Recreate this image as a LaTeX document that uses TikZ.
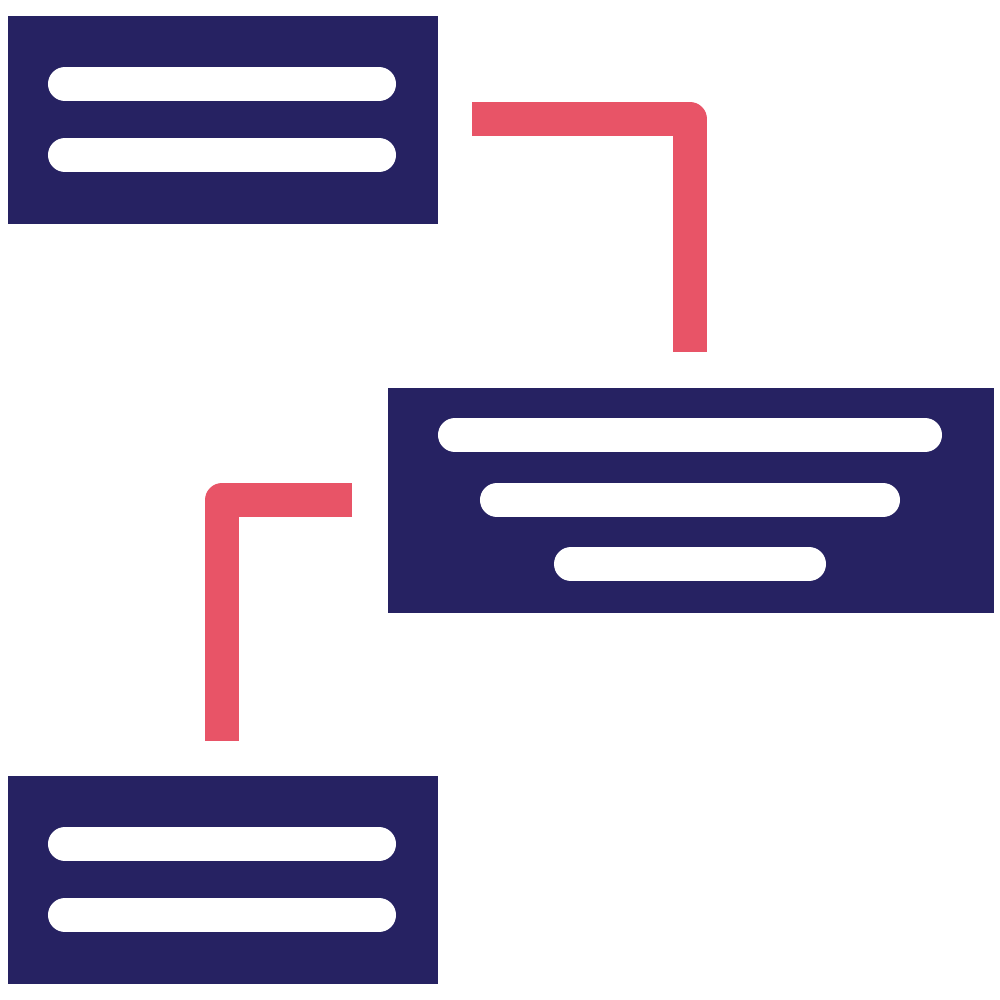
\documentclass[tikz,border=0pt]{standalone}
\definecolor{navy}{HTML}{262262}
\definecolor{rouge}{HTML}{E85467}
\tikzset{
  bloc/.style={fill=navy, inner sep=0pt, anchor=north west},
  ligne/.style={white, line width=0.34cm, line cap=round},
  lien/.style={rouge, line width=0.34cm, line join=round}
}
\begin{document}
\begin{tikzpicture}[x=0.01cm,y=-0.01cm]
    \useasboundingbox (0,0) rectangle (1000,1000);

    % Blocs
    \node[bloc, minimum width=4.3cm, minimum height=2.08cm] (haut) at (7,15) {};
    \node[bloc, minimum width=6.06cm, minimum height=2.25cm] (milieu) at (387,387) {};
    \node[bloc, minimum width=4.3cm, minimum height=2.08cm] (bas) at (7,775) {};

    % Lignes de texte
    \draw[ligne] (65,84) -- (379,84);
    \draw[ligne] (65,155) -- (379,155);
    \draw[ligne] (455,435) -- (925,435);
    \draw[ligne] (497,500) -- (883,500);
    \draw[ligne] (571,564) -- (809,564);
    \draw[ligne] (65,844) -- (379,844);
    \draw[ligne] (65,915) -- (379,915);

    % Liens
    \coordinate (a1) at (472,119);
    \coordinate (a2) at (690,119);
    \coordinate (a3) at (690,352);
    \draw[lien] (a1) -- (a2) -- (a3);
    \coordinate (b1) at (352,500);
    \coordinate (b2) at (222,500);
    \coordinate (b3) at (222,741);
    \draw[lien] (b1) -- (b2) -- (b3);
\end{tikzpicture}
\end{document}
